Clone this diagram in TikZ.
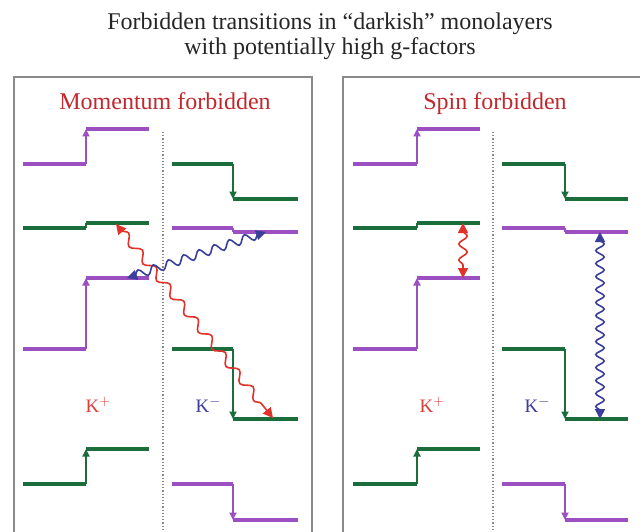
\documentclass[tikz,border=0pt]{standalone}
\usepackage{fontspec}
\setmainfont{Liberation Serif}
\usetikzlibrary{arrows.meta,decorations.pathmorphing}
\definecolor{lvpurple}{HTML}{9B4FC0}
\definecolor{lvgreen}{HTML}{1B6E3C}
\definecolor{wred}{HTML}{E2332B}
\definecolor{wblue}{HTML}{3B3F9C}
\definecolor{ttlred}{HTML}{C0282E}
\definecolor{kred}{HTML}{D9403A}
\definecolor{kblue}{HTML}{3C3C9C}
\definecolor{frame}{HTML}{8A8A8A}
\tikzset{
  levelH/.style={line width=3.2pt},
  levelV/.style={line width=1.7pt},
  steptip/.style={-{Triangle[length=7.5pt,width=7pt]}},
  panelframe/.style={draw=frame,line width=1.3pt},
  divider/.style={draw=frame,line width=1.2pt,dotted},
  wave/.style={line width=1.6pt,decorate,
    decoration={snake,amplitude=4.2pt,segment length=#1,pre length=8pt,post length=8pt},
    {Triangle[length=10pt,width=10pt]}-{Triangle[length=10pt,width=10pt]}},
  ttl/.style={font=\fontsize{24}{26}\selectfont,text=black!85,anchor=base},
  ptitle/.style={font=\fontsize{24}{26}\selectfont,text=ttlred,anchor=base},
  klabel/.style={font=\fontsize{19}{21}\selectfont,anchor=base west}
}
% level with an arrowed step: colour, xa, xb, xc, y1, y2
\newcommand{\lvlarrow}[6]{%
  \draw[levelH,#1] (#2,#5) -- (#3,#5);
  \draw[levelV,#1,steptip] (#3,#5) -- (#3,#6);
  \draw[levelH,#1] (#3,#6) -- (#4,#6);
}
% level with a small step
\newcommand{\lvlsmall}[6]{%
  \draw[levelH,#1] (#2,#5) -- (#3,#5);
  \draw[levelV,#1] (#3,#5) -- (#3,#6);
  \draw[levelH,#1] (#3,#6) -- (#4,#6);
}
\begin{document}
\begin{tikzpicture}[x=1pt,y=-1pt]
\useasboundingbox (0,0) rectangle (640,532);
\fill[white] (0,0) rectangle (640,532);
\clip (0,0) rectangle (640,532);

% title
\node[ttl] (t1) at (330,30) {Forbidden transitions in “darkish” monolayers};
\node[ttl] (t2) at (330,55) {with potentially high g-factors};

% frames
\draw[panelframe] (14,77) rectangle (312,560);
\draw[panelframe] (343,77) rectangle (680,560);

\node[ptitle] (pm) at (165,110) {Momentum forbidden};
\node[ptitle] (ps) at (495,110) {Spin forbidden};

% dividers
\coordinate (d1a) at (163,132); \coordinate (d1b) at (163,540);
\coordinate (d2a) at (493,132); \coordinate (d2b) at (493,540);
\draw[divider] (d1a) -- (d1b);
\draw[divider] (d2a) -- (d2b);

% ---- left panel levels
\lvlarrow{lvpurple}{23}{86}{149}{164}{129}
\lvlsmall{lvgreen}{23}{86}{149}{228}{223}
\lvlarrow{lvpurple}{23}{86}{149}{349}{278}
\lvlarrow{lvgreen}{23}{86}{149}{484}{449}
\lvlarrow{lvgreen}{172}{233}{298}{164}{199}
\lvlsmall{lvpurple}{172}{233}{298}{228}{232}
\lvlarrow{lvgreen}{172}{233}{298}{349}{419}
\lvlarrow{lvpurple}{172}{233}{298}{484}{520}

% ---- right panel levels
\lvlarrow{lvpurple}{353}{417}{480}{164}{129}
\lvlsmall{lvgreen}{353}{417}{480}{228}{223}
\lvlarrow{lvpurple}{353}{417}{480}{349}{278}
\lvlarrow{lvgreen}{353}{417}{480}{484}{449}
\lvlarrow{lvgreen}{502}{565}{628}{164}{199}
\lvlsmall{lvpurple}{502}{565}{628}{228}{232}
\lvlarrow{lvgreen}{502}{565}{628}{349}{419}
\lvlarrow{lvpurple}{502}{565}{628}{484}{520}

% labels
\node[klabel,text=kred] (kp1) at (82,412) {K$^{+}$};
\node[klabel,text=kblue] (km1) at (192,412) {K$^{-}$};
\node[klabel,text=kred] (kp2) at (416,412) {K$^{+}$};
\node[klabel,text=kblue] (km2) at (521,412) {K$^{-}$};

% wavy transitions
\coordinate (rA) at (116,224);
\coordinate (rB) at (273,418);
\coordinate (bA) at (127,278);
\coordinate (bB) at (266,232);
\coordinate (rC) at (463,223);
\coordinate (rD) at (463,278);
\coordinate (bC) at (600,232);
\coordinate (bD) at (600,419);
\draw[wave=22pt,wred] (rA) -- (rB);
\draw[wave=16pt,wblue] (bA) -- (bB);
\draw[wave=16pt,wred] (rC) -- (rD);
\draw[wave=13pt,wblue] (bC) -- (bD);
\end{tikzpicture}
\end{document}
